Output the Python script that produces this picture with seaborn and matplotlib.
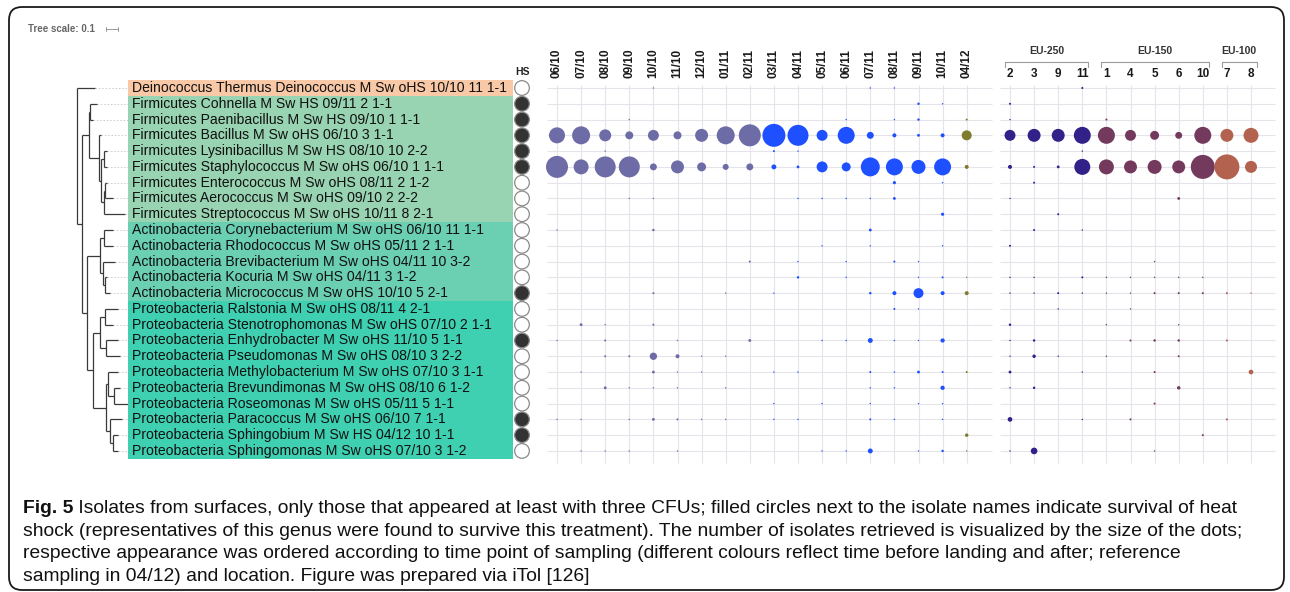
import matplotlib
matplotlib.use("Agg")
import matplotlib.pyplot as plt
import seaborn as sns
import pandas as pd
import numpy as np
from matplotlib.patches import FancyBboxPatch

# ---------------- data ----------------
row_labels = [
    "Deinococcus Thermus Deinococcus M Sw oHS 10/10 11 1-1",
    "Firmicutes Cohnella M Sw HS 09/11 2 1-1",
    "Firmicutes Paenibacillus M Sw HS 09/10 1 1-1",
    "Firmicutes Bacillus M Sw oHS 06/10 3 1-1",
    "Firmicutes Lysinibacillus M Sw HS 08/10 10 2-2",
    "Firmicutes Staphylococcus M Sw oHS 06/10 1 1-1",
    "Firmicutes Enterococcus M Sw oHS 08/11 2 1-2",
    "Firmicutes Aerococcus M Sw oHS 09/10 2 2-2",
    "Firmicutes Streptococcus M Sw oHS 10/11 8 2-1",
    "Actinobacteria Corynebacterium M Sw oHS 06/10 11 1-1",
    "Actinobacteria Rhodococcus M Sw oHS 05/11 2 1-1",
    "Actinobacteria Brevibacterium M Sw oHS 04/11 10 3-2",
    "Actinobacteria Kocuria M Sw oHS 04/11 3 1-2",
    "Actinobacteria Micrococcus M Sw oHS 10/10 5 2-1",
    "Proteobacteria Ralstonia M Sw oHS 08/11 4 2-1",
    "Proteobacteria Stenotrophomonas M Sw oHS 07/10 2 1-1",
    "Proteobacteria Enhydrobacter M Sw oHS 11/10 5 1-1",
    "Proteobacteria Pseudomonas M Sw oHS 08/10 3 2-2",
    "Proteobacteria Methylobacterium M Sw oHS 07/10 3 1-1",
    "Proteobacteria Brevundimonas M Sw oHS 08/10 6 1-2",
    "Proteobacteria Roseomonas M Sw oHS 05/11 5 1-1",
    "Proteobacteria Paracoccus M Sw oHS 06/10 7 1-1",
    "Proteobacteria Sphingobium M Sw HS 04/12 10 1-1",
    "Proteobacteria Sphingomonas M Sw oHS 07/10 3 1-2",
]
phylum = (["Deinococcus"] + ["Firmicutes"] * 8 + ["Actinobacteria"] * 5
          + ["Proteobacteria"] * 10)
heat_shock = [0, 1, 1, 1, 1, 1, 0, 0, 0, 0, 0, 0, 0, 1,
              0, 0, 1, 0, 0, 0, 0, 1, 1, 0]

date_labels = ["06/10", "07/10", "08/10", "09/10", "10/10", "11/10", "12/10",
               "01/11", "02/11", "03/11", "04/11", "05/11", "06/11", "07/11",
               "08/11", "09/11", "10/11", "04/12"]
date_period = ["before"] * 9 + ["after"] * 8 + ["reference"]

site_labels = ["2", "3", "9", "11", "1", "4", "5", "6", "10", "7", "8"]
site_group = ["EU-250"] * 4 + ["EU-150"] * 5 + ["EU-100"] * 2
group_names = ["EU-250", "EU-150", "EU-100"]

# isolate counts per row (taxon) and sampling date
counts_by_date = [
    [0, 0, 0, 0, 1, 0, 0, 0, 0, 0, 0, 0, 0, 1, 1, 0, 0, 0],
    [0, 0, 0, 0, 0, 0, 0, 0, 0, 0, 0, 0, 0, 0, 0, 3, 1, 0],
    [0, 0, 0, 1, 0, 0, 0, 0, 0, 0, 0, 0, 1, 0, 1, 3, 0, 2],
    [128, 162, 72, 32, 60, 32, 84, 162, 242, 264, 220, 60, 144, 24, 8, 4, 8, 50],
    [0, 0, 1, 0, 0, 0, 0, 0, 0, 2, 1, 0, 0, 0, 0, 0, 0, 0],
    [242, 112, 220, 220, 24, 84, 40, 18, 24, 12, 4, 60, 40, 180, 144, 98, 144, 8],
    [0, 0, 0, 0, 0, 0, 0, 0, 0, 0, 0, 0, 0, 0, 5, 0, 1, 0],
    [0, 0, 0, 1, 1, 0, 0, 0, 0, 0, 1, 1, 1, 1, 4, 0, 0, 0],
    [0, 0, 0, 0, 0, 0, 0, 0, 0, 0, 0, 0, 0, 0, 0, 0, 5, 0],
    [1, 0, 0, 0, 3, 0, 0, 0, 0, 0, 0, 0, 0, 4, 0, 0, 0, 0],
    [0, 0, 0, 0, 0, 0, 0, 0, 0, 0, 0, 1, 0, 1, 0, 0, 1, 0],
    [0, 0, 0, 0, 0, 0, 0, 0, 2, 0, 1, 0, 1, 0, 2, 1, 0, 0],
    [0, 0, 0, 0, 0, 0, 0, 0, 0, 0, 3, 0, 1, 0, 0, 1, 2, 1],
    [0, 0, 0, 0, 2, 0, 0, 1, 0, 1, 0, 0, 0, 3, 8, 50, 8, 8],
    [0, 0, 0, 0, 0, 0, 0, 0, 0, 0, 0, 0, 0, 0, 2, 1, 0, 0],
    [0, 4, 1, 0, 2, 0, 0, 0, 0, 0, 0, 0, 0, 0, 0, 0, 0, 0],
    [1, 0, 2, 0, 0, 1, 0, 0, 4, 0, 0, 1, 1, 12, 1, 1, 9, 0],
    [0, 0, 2, 2, 27, 8, 1, 1, 0, 0, 0, 0, 0, 0, 0, 0, 0, 0],
    [0, 1, 0, 0, 4, 1, 1, 0, 0, 1, 1, 0, 0, 2, 1, 4, 2, 2],
    [0, 0, 4, 1, 1, 1, 0, 1, 0, 0, 0, 0, 0, 1, 1, 0, 9, 0],
    [0, 0, 0, 0, 0, 0, 0, 0, 0, 1, 0, 1, 0, 1, 0, 1, 1, 0],
    [1, 1, 0, 1, 4, 2, 1, 1, 0, 1, 1, 0, 0, 2, 1, 0, 1, 0],
    [0, 0, 0, 0, 0, 0, 0, 0, 0, 0, 0, 0, 0, 0, 0, 0, 0, 6],
    [0, 1, 1, 1, 0, 1, 0, 0, 0, 0, 0, 1, 1, 12, 0, 1, 3, 1],
]
# isolate counts per row (taxon) and sampling location
counts_by_site = [
    [0, 0, 0, 2, 0, 0, 0, 0, 0, 0, 0],
    [2, 0, 0, 0, 0, 0, 0, 0, 0, 0, 0],
    [1, 0, 0, 0, 2, 0, 0, 0, 0, 0, 0],
    [60, 84, 84, 144, 144, 60, 40, 24, 144, 84, 112],
    [0, 0, 0, 1, 0, 0, 0, 0, 0, 0, 0],
    [8, 2, 4, 128, 112, 84, 98, 84, 288, 312, 72],
    [0, 2, 0, 0, 0, 0, 0, 0, 0, 0, 0],
    [1, 0, 0, 0, 0, 0, 0, 4, 0, 0, 0],
    [0, 0, 2, 0, 0, 0, 0, 0, 0, 0, 0],
    [0, 2, 0, 1, 0, 0, 0, 0, 0, 0, 0],
    [2, 0, 0, 0, 0, 0, 0, 0, 0, 0, 0],
    [0, 0, 0, 0, 0, 0, 1, 0, 0, 0, 0],
    [1, 1, 0, 2, 1, 1, 1, 1, 1, 0, 0],
    [1, 1, 2, 1, 1, 1, 2, 2, 2, 2, 1],
    [0, 0, 1, 0, 0, 1, 0, 0, 0, 0, 0],
    [3, 0, 0, 0, 1, 0, 0, 1, 0, 0, 0],
    [1, 3, 0, 0, 0, 2, 3, 3, 0, 2, 0],
    [1, 6, 1, 0, 1, 0, 0, 2, 0, 0, 0],
    [4, 0, 0, 1, 0, 0, 2, 0, 0, 0, 11],
    [1, 3, 0, 0, 0, 0, 0, 6, 0, 0, 0],
    [0, 0, 0, 0, 0, 0, 2, 0, 0, 0, 0],
    [11, 0, 0, 1, 0, 2, 0, 0, 0, 2, 0],
    [0, 0, 0, 0, 0, 0, 0, 0, 2, 0, 0],
    [1, 22, 0, 0, 0, 0, 1, 0, 0, 0, 0],
]

# phylogenetic tree: internal node = [node_x, child, ...], leaf = (row, tip_x)
tree = [77,
        (0, 95),
        [82,
         [89,
          [90, (1, 97), (2, 93)],
          [99,
           (3, 101),
           [101,
            [104, (4, 107), (5, 107)],
            [104, [105, (6, 107), (7, 113)], (8, 125)]]]],
         [87,
          [100,
           [104, (9, 113), (10, 113)],
           [103, (11, 115), [105, (12, 107), (13, 110)]]],
          [93,
           [100,
            [105, (14, 118), (15, 113)],
            [106, (16, 118), (17, 120)]],
           [106,
            [108, (18, 118), [114, (19, 120), (20, 128)]],
            [110, (21, 122), [113, (22, 118), (23, 118)]]]]]]]

# ---------------- styles ----------------
phylum_colors = {"Deinococcus": "#F9C8A6", "Firmicutes": "#98D3B2",
                 "Actinobacteria": "#6BCFB1", "Proteobacteria": "#3ED0B1"}
period_colors = {"before": "#6E6CA6", "after": "#1F50FF", "reference": "#807C2E"}
group_colors = {"EU-250": "#33218A", "EU-150": "#733A5E", "EU-100": "#B2624F"}
grid_color = "#E4E4EA"

sns.set_theme(style="white")
plt.rcParams["font.family"] = ["Liberation Sans", "DejaVu Sans"]

W, H = 1290, 592
fig = plt.figure(figsize=(W / 100, H / 100), dpi=100)

ROW0, ROWSTEP = 88.0, 15.78
Y_TOP, Y_BOT = 80, 465
COLSTEP = 24.1
n_rows = len(row_labels)
ylims = ((Y_BOT - ROW0) / ROWSTEP, (Y_TOP - ROW0) / ROWSTEP)


def px_axes(x0, x1, y0=Y_TOP, y1=Y_BOT):
    ax = fig.add_axes([x0 / W, 1 - y1 / H, (x1 - x0) / W, (y1 - y0) / H])
    ax.set_axis_off()
    ax.set_ylim(*ylims)
    return ax


# background overlay (frame + caption)
bg = fig.add_axes([0, 0, 1, 1], zorder=-5)
bg.set_axis_off()
bg.set_xlim(0, W)
bg.set_ylim(H, 0)
bg.add_patch(FancyBboxPatch((9, 7), 1275, 583,
                            boxstyle="round,pad=0,rounding_size=13",
                            fc="none", ec="#1a1a1a", lw=1.3))
bg.text(28, 29, "Tree scale: 0.1", fontsize=7, fontweight="bold",
        color="#666666", va="center", ha="left")
bg.plot([106, 118], [29, 29], color="#999999", lw=0.7)
bg.plot([106, 106], [27, 31], color="#999999", lw=0.7)
bg.plot([118, 118], [27, 31], color="#999999", lw=0.7)

# ---------------- tree ----------------
ax_tree = px_axes(60, 128)
ax_tree.set_xlim(60, 128)
tree_kw = dict(color="#3a3a3a", lw=0.9, solid_capstyle="butt")


def draw(node):
    if isinstance(node, tuple):
        row, tip = node
        ax_tree.plot([tip, 128], [row, row], color="#C8C8C8", lw=0.6,
                     ls=(0, (2, 2)))
        return row, tip
    x = node[0]
    ys = []
    for child in node[1:]:
        cy, cx = draw(child)
        ax_tree.plot([x, cx], [cy, cy], **tree_kw)
        ys.append(cy)
    ax_tree.plot([x, x], [min(ys), max(ys)], **tree_kw)
    return (min(ys) + max(ys)) / 2, x


ry, rx = draw(tree)

# ---------------- labels ----------------
ax_lab = px_axes(128, 513)
ax_lab.set_xlim(0, 1)
ax_lab.barh(range(n_rows), [1] * n_rows, height=1.0, left=0,
            color=[phylum_colors[p] for p in phylum], linewidth=0)
for i, lab in enumerate(row_labels):
    ax_lab.text(0.011, i, lab, fontsize=10.1, va="center", ha="left",
                color="#111111")

# ---------------- heat shock column ----------------
ax_hs = px_axes(513, 531)
ax_hs.set_xlim(0, 1)
hs_df = pd.DataFrame({"x": 0.5, "row": range(n_rows),
                      "hs": ["HS" if h else "no" for h in heat_shock]})
sns.scatterplot(data=hs_df, x="x", y="row", hue="hs",
                palette={"HS": "#333333", "no": "white"},
                edgecolor="#8a8a8a", linewidth=0.9, s=112, legend=False,
                ax=ax_hs, clip_on=False, zorder=3)
ax_hs.set_axis_off()
ax_hs.set_ylim(*ylims)
ax_hs.text(0.5, (72 - ROW0) / ROWSTEP, "HS", fontsize=7.5, fontweight="bold",
           ha="center", va="center", color="#222222")

# ---------------- dot matrices ----------------
NMAX = 312
SMAX = 1.037 * NMAX


def dot_panel(x0, x1, first_col_px, labels, counts, color_keys, palette,
              grid_x1):
    ax = px_axes(x0, x1)
    ncol = len(labels)
    ax.set_xlim((x0 - first_col_px) / COLSTEP, (x1 - first_col_px) / COLSTEP)
    ax.hlines(range(n_rows), (x0 + 2 - first_col_px) / COLSTEP,
              (grid_x1 - first_col_px) / COLSTEP, color=grid_color, lw=0.8,
              zorder=1)
    ax.vlines(range(ncol), -0.2, 23.75, color=grid_color, lw=0.8, zorder=1)
    recs = []
    for r in range(n_rows):
        for c in range(ncol):
            if counts[r][c] > 0:
                recs.append({"col": c, "row": r, "n": counts[r][c],
                             "key": color_keys[c]})
    df = pd.DataFrame(recs)
    sns.scatterplot(data=df, x="col", y="row", size="n", hue="key",
                    sizes=(0, SMAX), size_norm=(0, NMAX), palette=palette,
                    linewidth=0, legend=False, ax=ax, zorder=3, clip_on=False)
    ax.set_axis_off()
    ax.set_xlim((x0 - first_col_px) / COLSTEP, (x1 - first_col_px) / COLSTEP)
    ax.set_ylim(*ylims)
    return ax


ax_d = dot_panel(545, 995, 557, date_labels, counts_by_date, date_period,
                 period_colors, 992)
for c, lab in enumerate(date_labels):
    ax_d.text(c, (78 - ROW0) / ROWSTEP, lab, rotation=90, fontsize=8.5,
              fontweight="bold", ha="center", va="bottom", color="#1a1a1a")

ax_s = dot_panel(998, 1278, 1010, site_labels, counts_by_site, site_group,
                 group_colors, 1275)
for c, lab in enumerate(site_labels):
    ax_s.text(c, (74 - ROW0) / ROWSTEP, lab, fontsize=8.5, fontweight="bold",
              ha="center", va="center", color="#1a1a1a")
yb_top, yb_bot = (62 - ROW0) / ROWSTEP, (66.5 - ROW0) / ROWSTEP
for g in group_names:
    cols = [i for i, s in enumerate(site_group) if s == g]
    xa, xb = cols[0] - 0.22, cols[-1] + 0.25
    ax_s.plot([xa, xa, xb, xb], [yb_bot, yb_top, yb_top, yb_bot],
              color="#9a9a9a", lw=0.8, clip_on=False)
    ax_s.text((xa + xb) / 2, (51 - ROW0) / ROWSTEP, g, fontsize=7.5,
              fontweight="bold", ha="center", va="center", color="#333333")

# ---------------- caption ----------------
cap_lines = [
    "Isolates from surfaces, only those that appeared at least with three CFUs; "
    "filled circles next to the isolate names indicate survival of heat",
    "shock (representatives of this genus were found to survive this treatment). "
    "The number of isolates retrieved is visualized by the size of the dots;",
    "respective appearance was ordered according to time point of sampling "
    "(different colours reflect time before landing and after; reference",
    "sampling in 04/12) and location. Figure was prepared via iTol [126]",
]
cap_base = [513, 535.7, 558.4, 581]
cap_size = 13.9
t0 = bg.text(23, cap_base[0], "Fig. 5", fontsize=cap_size, fontweight="bold",
             va="baseline", ha="left", color="#111111")
bg.annotate(" " + cap_lines[0], xy=(1, 0), xycoords=t0, va="bottom",
            ha="left", fontsize=cap_size, color="#111111")
for yy, line in zip(cap_base[1:], cap_lines[1:]):
    bg.text(23, yy, line, fontsize=cap_size, va="baseline", ha="left",
            color="#111111")

fig.savefig("out.png", dpi=100)
